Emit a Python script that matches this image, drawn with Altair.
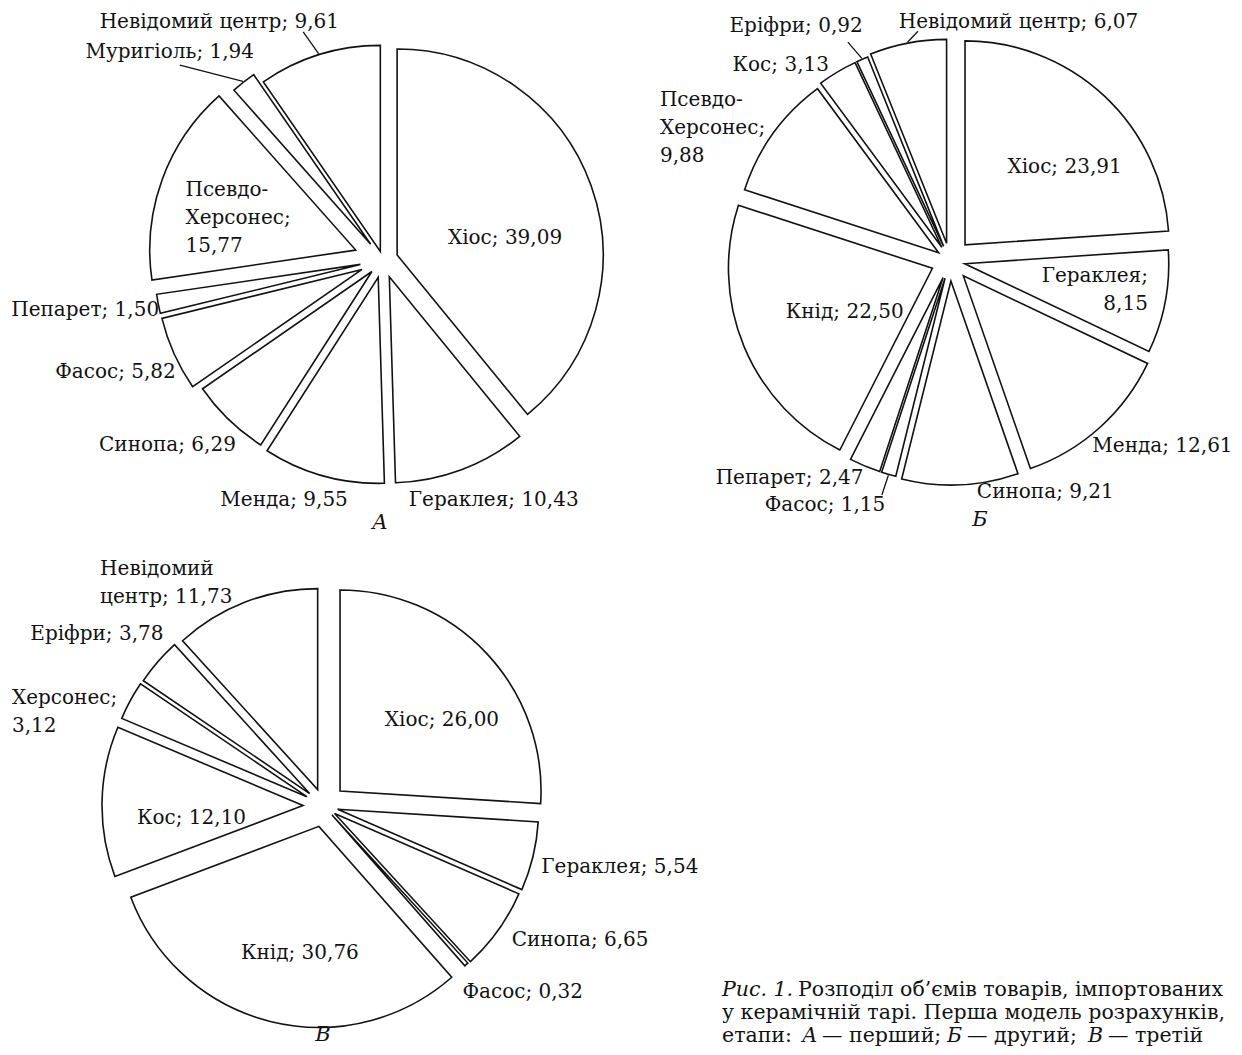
import altair as alt
import pandas as pd

# ---------------- data ----------------
names_A = ["Хіос", "Гераклея", "Менда", "Синопа", "Фасос", "Пепарет",
           "Псевдо-Херсонес", "Муригіоль", "Невідомий центр"]
values_A = [39.09, 10.43, 9.55, 6.29, 5.82, 1.50, 15.77, 1.94, 9.61]

names_B = ["Хіос", "Гераклея", "Менда", "Синопа", "Фасос", "Пепарет", "Кнід",
           "Псевдо-Херсонес", "Кос", "Еріфри", "Невідомий центр"]
values_B = [23.91, 8.15, 12.61, 9.21, 1.15, 2.47, 22.50, 9.88, 3.13, 0.92, 6.07]

names_C = ["Хіос", "Гераклея", "Синопа", "Фасос", "Кнід", "Кос", "Херсонес",
           "Еріфри", "Невідомий центр"]
values_C = [26.00, 5.54, 6.65, 0.32, 30.76, 12.10, 3.12, 3.78, 11.73]

pie_letters = ["А", "Б", "В"]

# label wrapping: 0 one line, 1 break before value,
# 2 break after hyphen and before value, 3 break inside name only
wrap_A = [0, 0, 0, 0, 0, 0, 2, 0, 0]
wrap_B = [0, 1, 0, 0, 0, 0, 0, 2, 0, 0, 0]
wrap_C = [0, 0, 0, 0, 0, 0, 1, 0, 3]

caption_lines = [
    [("Рис. 1.", "italic"), ("Розподіл об’ємів товарів, імпортованих", "normal")],
    [("у керамічній тарі. Перша модель розрахунків,", "normal")],
    [("етапи:", "normal"), ("А", "italic"), ("— перший;", "normal"), ("Б", "italic"),
     ("— другий;", "normal"), ("В", "italic"), ("— третій", "normal")],
]

# ---------------- layout / style ----------------
FONT = "DejaVu Serif"
INK = "#121212"
LINE_H = 28
PIE_LAYOUT = [
    dict(cx=383, cy=260, R=206, letter_dx=-3, letter_dy=263),
    dict(cx=950, cy=261, R=204, letter_dx=30, letter_dy=259),
    dict(cx=324, cy=806, R=201, letter_dx=-1, letter_dy=229),
]
# radial explosion of each slice (px)
explode_A = [15, 18, 18, 16, 23, 23, 29, 20, 9]
explode_B = [22, 15, 20, 20, 18, 18, 19, 14, 16, 16, 18]
explode_C = [22, 14, 13, 12, 21, 21, 19.5, 19, 17.6]
# label placement: distance from centre, angular nudge from slice middle (deg), alignment
label_r_A = [124, 264, 260, 284, 290, 302, 202, 298, 289]
label_da_A = [9.4, -4.3, 6.9, 5.4, 1.5, 1.5, -8, -7.6, -17.2]
label_al_A = ["center"] * 6 + ["left", "center", "center"]
label_r_B = [148, 200, 282, 250, 274, 270, 117, 319, 259, 281, 249]
label_da_B = [7.7, -2.4, -7.0, -19.8, 11.1, 13.9, -3.4, -11.2, -10, -9.7, 26.9]
label_al_B = ["center", "right", "center", "center", "center", "center", "center",
              "left", "center", "center", "center"]
label_r_C = [146, 302, 289, 272, 149, 133, 326, 285, 316]
label_da_C = [7.1, -2, -7.9, -5, -4.7, -6.3, -11.7, -3.8, -24]
label_al_C = ["center"] * 6 + ["left", "center", "left"]
# leader lines: slice index -> (end distance, angular nudge)
leader_A = {7: (281.5, -8.1), 8: (241.6, -2.0)}
leader_B = {4: (243.7, 0.2), 9: (241.6, -1.5), 10: (232, 3.0)}
leader_C = {}

CAPTION_X = [[722, 798], [722], [722, 802, 822, 947, 967, 1088, 1108]]
CAPTION_BASELINE = [996, 1019, 1042]


def make_label(name, v, w):
    val = f"{v:.2f}".replace(".", ",")
    if w == 2:
        name = name.replace("-", "-\n", 1)
    if w == 3:
        name = name.replace(" ", "\n", 1)
    sep = "\n" if w in (1, 2) else " "
    return f"{name};{sep}{val}"


rows = []
specs = [
    (names_A, values_A, wrap_A, explode_A, label_r_A, label_da_A, label_al_A, leader_A),
    (names_B, values_B, wrap_B, explode_B, label_r_B, label_da_B, label_al_B, leader_B),
    (names_C, values_C, wrap_C, explode_C, label_r_C, label_da_C, label_al_C, leader_C),
]
for p, (names, values, wraps, expl, lr, lda, al, lead) in enumerate(specs):
    lay = PIE_LAYOUT[p]
    for i, (n, v) in enumerate(zip(names, values)):
        lead_r, lead_da = lead.get(i, (0.0, 0.0))
        lab = make_label(n, v, wraps[i])
        rows.append(dict(pie=pie_letters[p], idx=i, name=n, value=v,
                         label=lab, nlines=lab.count("\n") + 1, d=expl[i],
                         lr=lr[i], lda=lda[i], align=al[i],
                         has_lead=i in lead, lead_r=lead_r, lead_da=lead_da,
                         cx=lay["cx"], cy=lay["cy"], R=lay["R"]))
df = pd.DataFrame(rows)

letters_df = pd.DataFrame([
    dict(letter=pie_letters[p], tx=PIE_LAYOUT[p]["cx"] + PIE_LAYOUT[p]["letter_dx"],
         ty=PIE_LAYOUT[p]["cy"] + PIE_LAYOUT[p]["letter_dy"])
    for p in range(3)
])

cap_rows = []
for li, line in enumerate(caption_lines):
    for si, (txt, style) in enumerate(line):
        cap_rows.append(dict(text=txt, style=style,
                             x=CAPTION_X[li][si], y=CAPTION_BASELINE[li]))
cap_df = pd.DataFrame(cap_rows)

W, H = 1226, 1039
xs = alt.Scale(domain=[8, 8 + W], range=[0, W], nice=False, zero=False)
ys = alt.Scale(domain=[8, 8 + H], range=[0, H], nice=False, zero=False)


def X(f):
    return alt.X(f, type="quantitative", scale=xs, axis=None)


def Y(f):
    return alt.Y(f, type="quantitative", scale=ys, axis=None)


base = (
    alt.Chart(df)
    .transform_window(cum="sum(value)", sort=[alt.SortField("idx")],
                      groupby=["pie"], frame=[None, 0])
    .transform_joinaggregate(total="sum(value)", groupby=["pie"])
    .transform_calculate(a0="2*PI*(datum.cum - datum.value)/datum.total")
    .transform_calculate(a1="2*PI*datum.cum/datum.total")
    .transform_calculate(am="(datum.a0 + datum.a1)/2")
    .transform_calculate(px="datum.cx + datum.d*sin(datum.am)")
    .transform_calculate(py="datum.cy - datum.d*cos(datum.am)")
    .transform_calculate(la="datum.am + datum.lda*PI/180")
    .transform_calculate(lx="datum.cx + datum.lr*sin(datum.la)")
    .transform_calculate(
        ly=f"datum.cy - datum.lr*cos(datum.la) - (datum.nlines - 1)*{LINE_H}/2")
    .transform_calculate(sx="datum.cx + (datum.d + datum.R + 1)*sin(datum.am)")
    .transform_calculate(sy="datum.cy - (datum.d + datum.R + 1)*cos(datum.am)")
    .transform_calculate(ea="datum.am + datum.lead_da*PI/180")
    .transform_calculate(ex="datum.cx + datum.lead_r*sin(datum.ea)")
    .transform_calculate(ey="datum.cy - datum.lead_r*cos(datum.ea)")
)

arcs = base.mark_arc(fill="white", stroke=INK, strokeWidth=1.6,
                     strokeJoin="miter").encode(
    x=X("px"), y=Y("py"),
    theta=alt.Theta("a0:Q", scale=None, stack=None),
    theta2=alt.Theta2("a1:Q"),
    radius=alt.Radius("R:Q", scale=None),
)

leaders = base.transform_filter("datum.has_lead").mark_rule(
    color=INK, strokeWidth=1.3).encode(
    x=X("sx"), y=Y("sy"), x2=alt.X2("ex:Q"), y2=alt.Y2("ey:Q"))

label_layers = []
for al in ["left", "center", "right"]:
    label_layers.append(
        base.transform_filter(f"datum.align == '{al}'").mark_text(
            align=al, baseline="middle", font=FONT, fontSize=20, lineBreak="\n",
            lineHeight=LINE_H, color=INK).encode(
            x=X("lx"), y=Y("ly"), text="label:N"))

letters = alt.Chart(letters_df).mark_text(
    align="center", baseline="middle", font=FONT, fontSize=21, fontStyle="italic",
    color=INK).encode(x=X("tx"), y=Y("ty"), text="letter:N")

cap_layers = []
for style in ["normal", "italic"]:
    cap_layers.append(
        alt.Chart(cap_df).transform_filter(f"datum.style == '{style}'").mark_text(
            align="left", baseline="alphabetic", font=FONT, fontSize=20.5,
            fontStyle=style, color=INK).encode(
            x=X("x"), y=Y("y"), text="text:N"))

chart = alt.layer(arcs, leaders, *label_layers, letters, *cap_layers).properties(
    width=W, height=H, padding=0, autosize="none", background="white"
).configure_view(stroke=None)

chart.save("out.html", embed_options={"renderer": "svg", "actions": False})
